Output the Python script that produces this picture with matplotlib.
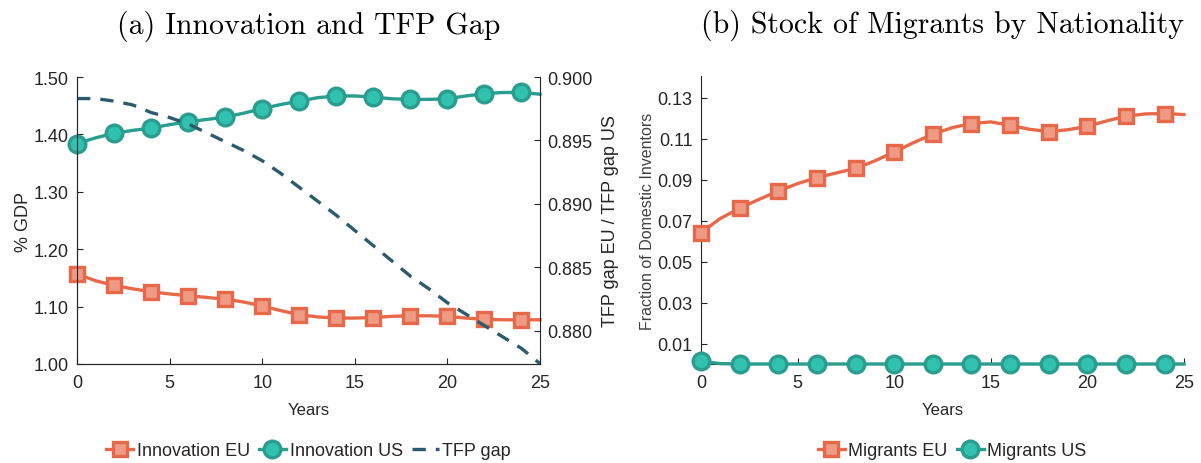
import matplotlib
matplotlib.use("Agg")
import matplotlib.pyplot as plt
import numpy as np

years = list(range(26))
innov_us = [1.384, 1.394, 1.402, 1.407, 1.411, 1.417, 1.422, 1.426, 1.430, 1.437,
            1.445, 1.452, 1.458, 1.464, 1.467, 1.467, 1.465, 1.462, 1.461, 1.461,
            1.462, 1.467, 1.471, 1.473, 1.473, 1.470]
innov_eu = [1.157, 1.145, 1.137, 1.131, 1.126, 1.122, 1.119, 1.116, 1.113, 1.108,
            1.101, 1.093, 1.086, 1.082, 1.080, 1.080, 1.081, 1.083, 1.084, 1.084,
            1.083, 1.080, 1.078, 1.077, 1.077, 1.077]
tfp_gap = [0.8983, 0.8983, 0.8981, 0.8978, 0.8972, 0.8968, 0.8963, 0.8956, 0.8949, 0.8942,
           0.8934, 0.8924, 0.8913, 0.8902, 0.8891, 0.8879, 0.8867, 0.8855, 0.8843, 0.8833,
           0.8822, 0.8813, 0.8804, 0.8795, 0.8786, 0.8774]
migr_eu = [0.0643, 0.0712, 0.0762, 0.0805, 0.0846, 0.0882, 0.0911, 0.0934, 0.0956, 0.0993,
           0.1036, 0.1082, 0.1123, 0.1155, 0.1175, 0.1183, 0.1167, 0.1147, 0.1136, 0.1145,
           0.1162, 0.1188, 0.1211, 0.1222, 0.1224, 0.1219]
migr_us = [0.0015, 0.0004, 0.0002, 0.0002, 0.0002, 0.0002, 0.0002, 0.0002, 0.0002, 0.0002,
           0.0002, 0.0002, 0.0002, 0.0002, 0.0002, 0.0002, 0.0002, 0.0002, 0.0002, 0.0002,
           0.0002, 0.0002, 0.0002, 0.0002, 0.0002, 0.0002]

left_yticks = [1.00, 1.10, 1.20, 1.30, 1.40, 1.50]
right_yticks = [0.880, 0.885, 0.890, 0.895, 0.900]
migr_yticks = [0.01, 0.03, 0.05, 0.07, 0.09, 0.11, 0.13]
xticks = [0, 5, 10, 15, 20, 25]

ORANGE = "#E8694A"
ORANGE_FACE = "#EE9A84"
TEAL = "#2A9D8F"
TEAL_FACE = "#30C2AE"
DARK = "#2C5B6E"
TXT = "#262626"

plt.rcParams['font.family'] = ['Liberation Sans', 'DejaVu Sans']
plt.rcParams['text.color'] = TXT
plt.rcParams['axes.labelcolor'] = TXT
plt.rcParams['xtick.color'] = TXT
plt.rcParams['ytick.color'] = TXT

fig = plt.figure(figsize=(12.01, 4.64), dpi=100)
ax1 = fig.add_axes([77/1201, 99/464, 463/1201, 287/464])
ax2 = fig.add_axes([701/1201, 99/464, 483/1201, 288/464])

lw = 2.4
eu_kw = dict(color=ORANGE, lw=lw, marker='s', markersize=10.5, markerfacecolor=ORANGE_FACE,
             markeredgecolor=ORANGE, markeredgewidth=2.4, markevery=2, clip_on=False, zorder=3)
us_kw = dict(color=TEAL, lw=lw, marker='o', markersize=12, markerfacecolor=TEAL_FACE,
             markeredgecolor=TEAL, markeredgewidth=2.4, markevery=2, clip_on=False, zorder=3)

# Panel (a)
l1, = ax1.plot(years, innov_eu, label='Innovation EU', **eu_kw)
l2, = ax1.plot(years, innov_us, label='Innovation US', **us_kw)
ax1.set_xlim(0, 25)
ax1.set_ylim(1.0, 1.5)
ax1.set_yticks(left_yticks)
ax1.set_yticklabels([f"{v:.2f}" for v in left_yticks])
ax1.set_xticks(xticks)
ax1.set_ylabel('% GDP', fontsize=13, labelpad=1)
ax1.set_xlabel('Years', fontsize=12, labelpad=8)

ax1b = ax1.twinx()
l3, = ax1b.plot(years, tfp_gap, color=DARK, lw=lw, ls=(0, (4, 3)), label='TFP gap',
                clip_on=False, zorder=2)
ax1b.set_ylim(0.87737, 0.900)
ax1b.set_yticks(right_yticks)
ax1b.set_yticklabels([f"{v:.3f}" for v in right_yticks])
ax1b.set_ylabel('TFP gap EU / TFP gap US', fontsize=13, labelpad=7)

for a in (ax1, ax1b, ax2):
    a.tick_params(direction='in', labelsize=13, length=4, width=0.8)
    a.tick_params(axis='x', pad=7)
    a.tick_params(axis='y', pad=6)
ax1b.tick_params(axis='y', pad=5)
for a in (ax1, ax1b):
    a.spines['top'].set_visible(False)
ax1.spines['right'].set_visible(False)
ax1.set_title('(a) Innovation and TFP Gap', fontfamily='cmr10', fontsize=21.5, pad=32, color='black')

leg_prop = {'family': ['Liberation Sans Narrow', 'Liberation Sans'], 'size': 13}
ax1.legend(handles=[l1, l2, l3], loc='upper center', bbox_to_anchor=(0.5, -0.215),
           ncol=3, frameon=False, handlelength=1.5, handletextpad=0.2,
           columnspacing=0.5, prop=leg_prop)

# Panel (b)
m1, = ax2.plot(years, migr_eu, label='Migrants EU', **eu_kw)
m2, = ax2.plot(years, migr_us, label='Migrants US', **us_kw)
ax2.set_xlim(0, 25)
ax2.set_ylim(0.0002, 0.1407)
ax2.set_yticks(migr_yticks)
ax2.set_yticklabels([f"{v:.2f}" for v in migr_yticks])
ax2.set_xticks(xticks)
ax2.set_xlabel('Years', fontsize=12, labelpad=8)
ax2.set_ylabel('Fraction of Domestic Inventors', fontsize=11.5, color='#404040', labelpad=2)
ax2.spines['top'].set_visible(False)
ax2.spines['right'].set_visible(False)
ax2.set_title('(b) Stock of Migrants by Nationality', fontfamily='cmr10', fontsize=21.5, pad=32, color='black')
ax2.legend(handles=[m1, m2], loc='upper center', bbox_to_anchor=(0.52, -0.215),
           ncol=2, frameon=False, handlelength=1.5, handletextpad=0.2,
           columnspacing=0.5, prop=leg_prop)

for a in (ax1, ax1b, ax2):
    for s in a.spines.values():
        s.set_linewidth(0.8)
        s.set_color('#262626')

fig.savefig('out.png', dpi=100)
